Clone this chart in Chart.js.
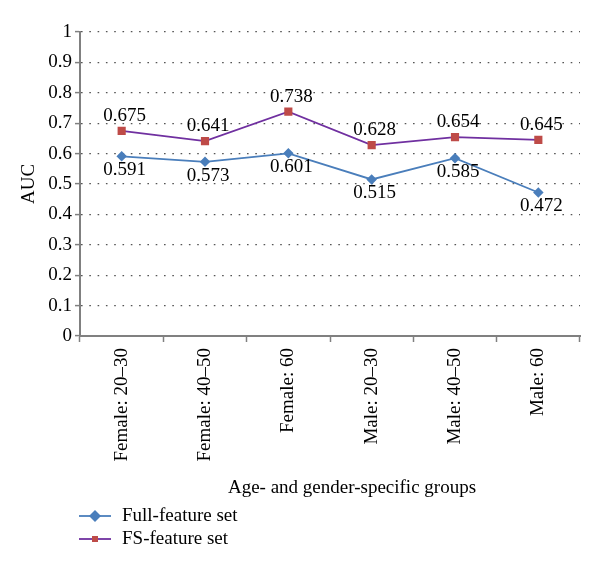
<!DOCTYPE html>
<html>
<head>
<meta charset="utf-8">
<script src="https://cdn.jsdelivr.net/npm/chart.js@4/dist/chart.umd.min.js"></script>
<style>
    html, body { margin: 0; padding: 0; background: #fff; }
    #wrap { width: 600px; height: 571px; }
</style>
</head>
<body>
<div id="wrap"><canvas id="auc" width="600" height="571"></canvas></div>
<script>
const groups = ['Female: 20\u201330', 'Female: 40\u201350', 'Female: 60', 'Male: 20\u201330', 'Male: 40\u201350', 'Male: 60'];
const fullFeature = [0.591, 0.573, 0.601, 0.515, 0.585, 0.472];
const fsFeature = [0.675, 0.641, 0.738, 0.628, 0.654, 0.645];
const seriesNames = ['Full-feature set', 'FS-feature set'];
const xTitle = 'Age- and gender-specific groups';
const yTitle = 'AUC';

const FONT = "'Liberation Serif', 'Times New Roman', serif";
const SIZE = 19;
const colors = {
    blue: '#4a7ebb',
    red: '#be4b48',
    purple: '#7030a0',
    axis: '#808080',
    dots: '#555555',
};

// value labels: FS above its points, full-feature below
const valueLabels = {
    id: 'valueLabels',
    afterDatasetsDraw(chart) {
        const { ctx } = chart;
        ctx.save();
        ctx.font = `${SIZE}px ${FONT}`;
        ctx.fillStyle = '#000';
        ctx.textAlign = 'center';
        ctx.textBaseline = 'middle';
        chart.data.datasets.forEach((ds, i) => {
            const meta = chart.getDatasetMeta(i);
            const dy = ds.labelSide === 'above' ? -15 : 14;
            meta.data.forEach((pt, j) => {
                ctx.fillText(ds.data[j].toFixed(3), pt.x + 3, pt.y + dy);
            });
        });
        ctx.restore();
    },
};

// x title and the legend sit under the axis, drawn by hand
const bottomBits = {
    id: 'bottomBits',
    afterDraw(chart) {
        const { ctx } = chart;
        ctx.save();
        ctx.font = `${SIZE}px ${FONT}`;
        ctx.fillStyle = '#000';
        ctx.textBaseline = 'middle';
        ctx.textAlign = 'center';
        ctx.fillText(xTitle, 352, 488);

        ctx.textAlign = 'left';
        chart.data.datasets.forEach((ds, i) => {
            const y = 516 + i * 23;
            ctx.strokeStyle = ds.borderColor;
            ctx.lineWidth = 1.8;
            ctx.beginPath();
            ctx.moveTo(79, y);
            ctx.lineTo(111, y);
            ctx.stroke();
            ctx.fillStyle = ds.pointBackgroundColor;
            if (ds.pointStyle === 'rectRot') {
                ctx.beginPath();
                ctx.moveTo(95, y - 6);
                ctx.lineTo(101, y);
                ctx.lineTo(95, y + 6);
                ctx.lineTo(89, y);
                ctx.closePath();
                ctx.fill();
            } else {
                ctx.fillRect(92, y - 3, 6, 6);
            }
            ctx.fillStyle = '#000';
            ctx.fillText(ds.label, 122, y);
        });
        ctx.restore();
    },
};

new Chart(document.getElementById('auc'), {
    type: 'line',
    data: {
        labels: groups,
        datasets: [
            {
                label: seriesNames[0],
                data: fullFeature,
                borderColor: colors.blue,
                borderWidth: 1.8,
                pointStyle: 'rectRot',
                pointRadius: 4,
                pointBackgroundColor: colors.blue,
                pointBorderColor: colors.blue,
                labelSide: 'below',
                tension: 0,
            },
            {
                label: seriesNames[1],
                data: fsFeature,
                borderColor: colors.purple,
                borderWidth: 1.8,
                pointStyle: 'rect',
                pointRadius: 4.5,
                pointBackgroundColor: colors.red,
                pointBorderColor: colors.red,
                labelSide: 'above',
                tension: 0,
            },
        ],
    },
    options: {
        responsive: false,
        animation: false,
        layout: { padding: { left: 0, right: 20, top: 32, bottom: 0 } },
        plugins: {
            legend: { display: false },
            tooltip: { enabled: false },
        },
        scales: {
            x: {
                offset: true,
                grid: {
                    offset: true,
                    drawOnChartArea: false,
                    drawTicks: true,
                    tickLength: 6,
                    tickColor: colors.axis,
                    tickWidth: 1.5,
                },
                border: { color: colors.axis, width: 2 },
                ticks: {
                    color: '#000',
                    font: { family: FONT, size: SIZE },
                    minRotation: 90,
                    maxRotation: 90,
                    padding: 6,
                    autoSkip: false,
                },
                afterFit: (axis) => { axis.height = 235; },
            },
            y: {
                min: 0,
                max: 1,
                grid: {
                    color: colors.dots,
                    lineWidth: 1.2,
                    tickLength: 5,
                    tickColor: colors.axis,
                    tickWidth: 1.5,
                    tickBorderDash: [],
                },
                border: { color: colors.axis, width: 2, dash: [1.6, 6.7] },
                ticks: {
                    stepSize: 0.1,
                    color: '#000',
                    font: { family: FONT, size: SIZE },
                    padding: 3,
                    callback: (v) => String(Math.round(v * 10) / 10),
                },
                title: {
                    display: true,
                    text: yTitle,
                    color: '#000',
                    font: { family: FONT, size: SIZE },
                    padding: { top: 18, bottom: 0 },
                },
                afterFit: (axis) => { axis.width = 80; },
            },
        },
    },
    plugins: [valueLabels, bottomBits],
});
</script>
</body>
</html>
